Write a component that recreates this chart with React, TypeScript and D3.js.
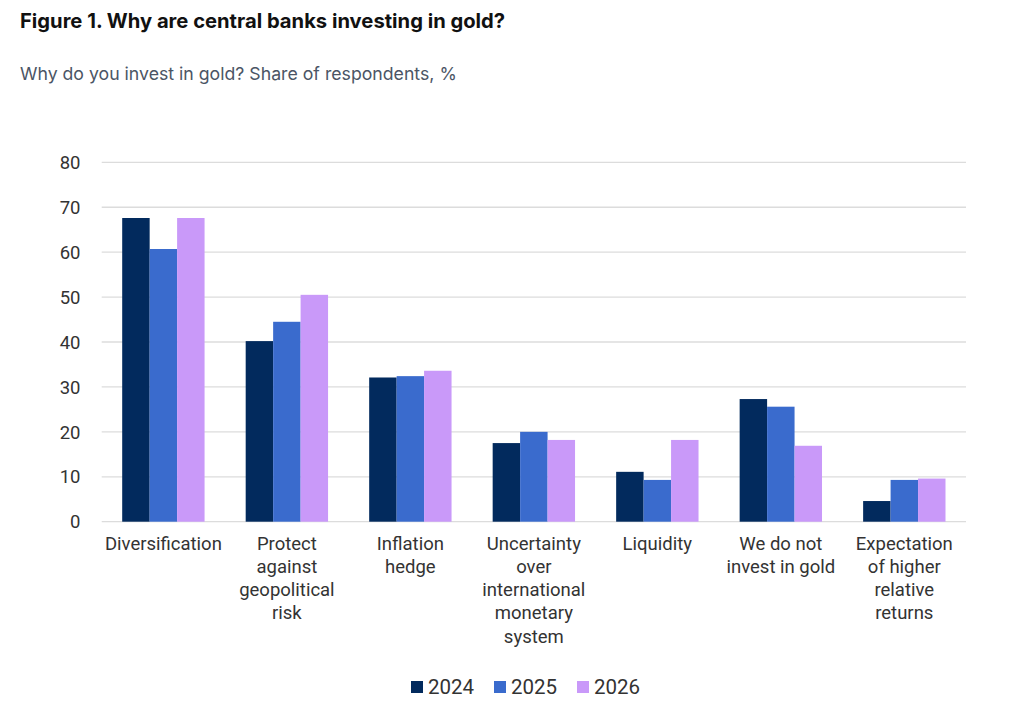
import * as d3 from 'd3';
import React from 'react';

const categories = [
    ['Diversification'],
    ['Protect', 'against', 'geopolitical', 'risk'],
    ['Inflation', 'hedge'],
    ['Uncertainty', 'over', 'international', 'monetary', 'system'],
    ['Liquidity'],
    ['We do not', 'invest in gold'],
    ['Expectation', 'of higher', 'relative', 'returns'],
];
const years = ['2024', '2025', '2026'];
const values2024 = [67.6, 40.2, 32.1, 17.5, 11.1, 27.3, 4.6];
const values2025 = [60.7, 44.5, 32.4, 20.0, 9.3, 25.6, 9.3];
const values2026 = [67.6, 50.5, 33.6, 18.2, 18.2, 16.9, 9.6];
const yTicks = [0, 10, 20, 30, 40, 50, 60, 70, 80];

const COLORS = ['#022a5d', '#3a6bcd', '#c999f9'];
const W = 1024;
const H = 710;

export default function App() {
    const series = [values2024, values2025, values2026];
    const keys = categories.map((c) => c.join(' '));

    const x = d3.scaleBand<string>().domain(keys).range([101.7, 966]).paddingInner(0.333).paddingOuter(0.166);
    const inner = d3.scaleBand<string>().domain(years).range([0, x.bandwidth()]);
    const y = d3.scaleLinear().domain([0, 80]).range([521.7, 162.3]);

    const legend = d3.scaleOrdinal<string, number>().domain(years).range([411, 494, 577]);

    return (
        <svg
            width={W}
            height={H}
            viewBox={`0 0 ${W} ${H}`}
            style={{ position: 'absolute', top: 0, left: 0, display: 'block', background: '#fff' }}
        >
            <text x={20} y={28} fontFamily="Inter, 'Open Sans', sans-serif" fontWeight={700} fontSize={20.2} fill="#111">
                Figure 1. Why are central banks investing in gold?
            </text>
            <text x={20} y={80} fontFamily="Inter, 'Open Sans', sans-serif" fontSize={17.7} fill="#4b5565">
                Why do you invest in gold? Share of respondents, %
            </text>

            {yTicks.map((t) => (
                <g key={t}>
                    <line x1={101.7} x2={966} y1={y(t)} y2={y(t)} stroke="#dcdcdc" strokeWidth={1.3} />
                    <text
                        x={80.5}
                        y={y(t)}
                        dy="0.36em"
                        textAnchor="end"
                        fontFamily="Roboto, sans-serif"
                        fontSize={18.5}
                        fill="#333"
                    >
                        {t}
                    </text>
                </g>
            ))}

            {keys.map((k, i) => (
                <g key={k} transform={`translate(${x(k)},0)`}>
                    {years.map((yr, j) => (
                        <rect
                            key={yr}
                            x={inner(yr)}
                            y={y(series[j][i])}
                            width={inner.bandwidth()}
                            height={y(0) - y(series[j][i])}
                            fill={COLORS[j]}
                        />
                    ))}
                    <text
                        x={x.bandwidth() / 2}
                        y={549.5}
                        textAnchor="middle"
                        fontFamily="Roboto, sans-serif"
                        fontSize={18.5}
                        fill="#333"
                    >
                        {categories[i].map((line, li) => (
                            <tspan key={li} x={x.bandwidth() / 2} dy={li === 0 ? 0 : 23.3}>
                                {line}
                            </tspan>
                        ))}
                    </text>
                </g>
            ))}

            {years.map((yr, j) => (
                <g key={yr} transform={`translate(${legend(yr)},681)`}>
                    <rect width={12} height={12} fill={COLORS[j]} />
                    <text x={17} y={13} fontFamily="Roboto, sans-serif" fontSize={20.5} fill="#333">
                        {yr}
                    </text>
                </g>
            ))}
        </svg>
    );
}
